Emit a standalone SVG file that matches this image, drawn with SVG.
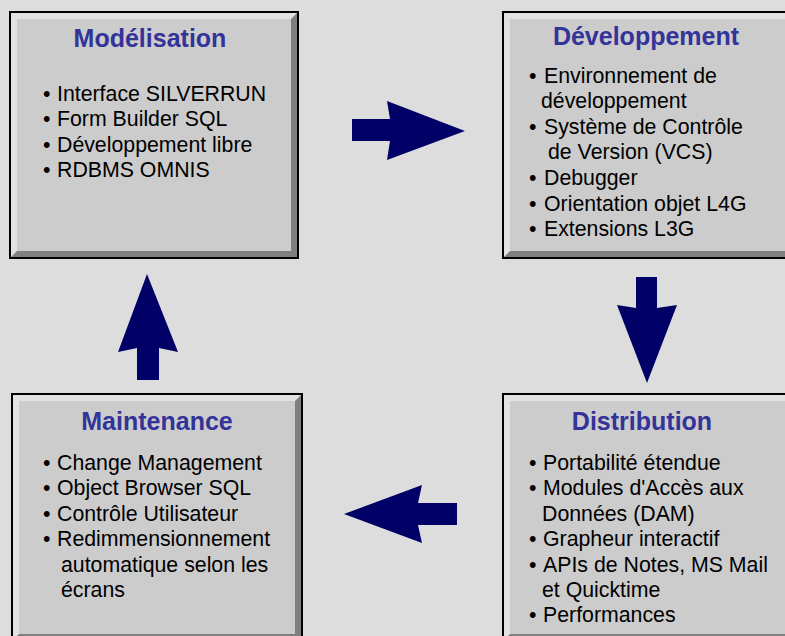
<svg xmlns="http://www.w3.org/2000/svg" width="785" height="636" viewBox="0 0 785 636">
<style>
.bg{fill:#dddddd}
.light{fill:#e2e2e2}
.dark{fill:#7f7f7f}
.face{fill:#cccccc}
.border{fill:none;stroke:#000;stroke-width:2}
.title{font-family:"Liberation Sans",Arial,sans-serif;font-size:25px;font-weight:bold;fill:#333399;text-anchor:middle}
.item{font-family:"Liberation Sans",Arial,sans-serif;font-size:21.3px;fill:#000}
.arrow{fill:#000066}
</style>
<rect class="bg" x="0" y="0" width="785" height="636"/>

<g id="modelisation">
<polygon class="light" points="11,13 297,13 291,19 17,19 17,251 11,257"/>
<polygon class="dark" points="297,13 297,257 11,257 17,251 291,251 291,19"/>
<rect class="face" x="17" y="19" width="274" height="232"/>
<rect class="border" x="10" y="12" width="288" height="246"/>
<text class="title" x="150" y="47">Modélisation</text>
<text class="item"><tspan x="43" y="101">•</tspan><tspan x="57" y="101">Interface SILVERRUN</tspan><tspan x="43" y="126">•</tspan><tspan x="57" y="126">Form Builder SQL</tspan><tspan x="43" y="152">•</tspan><tspan x="57" y="152">Développement libre</tspan><tspan x="43" y="177">•</tspan><tspan x="57" y="177">RDBMS OMNIS</tspan></text>
</g>

<g id="developpement">
<polygon class="light" points="504,13 798,13 792,19 510,19 510,251 504,257"/>
<polygon class="dark" points="798,13 798,257 504,257 510,251 792,251 792,19"/>
<rect class="face" x="510" y="19" width="282" height="232"/>
<rect class="border" x="503" y="12" width="296" height="246"/>
<text class="title" x="646" y="45">Développement</text>
<text class="item"><tspan x="529" y="83">•</tspan><tspan x="544" y="83">Environnement de</tspan><tspan x="541" y="108">développement</tspan><tspan x="529" y="134">•</tspan><tspan x="544" y="134">Système de Contrôle</tspan><tspan x="548" y="159">de Version (VCS)</tspan><tspan x="529" y="185">•</tspan><tspan x="544" y="185">Debugger</tspan><tspan x="529" y="211">•</tspan><tspan x="544" y="211">Orientation objet L4G</tspan><tspan x="529" y="236">•</tspan><tspan x="544" y="236">Extensions L3G</tspan></text>
</g>

<g id="maintenance">
<polygon class="light" points="13,395 301,395 295,401 19,401 19,634 13,640"/>
<polygon class="dark" points="301,395 301,640 13,640 19,634 295,634 295,401"/>
<rect class="face" x="19" y="401" width="276" height="233"/>
<rect class="border" x="12" y="394" width="290" height="247"/>
<text class="title" x="157" y="430">Maintenance</text>
<text class="item"><tspan x="43" y="470">•</tspan><tspan x="57" y="470">Change Management</tspan><tspan x="43" y="495">•</tspan><tspan x="57" y="495">Object Browser SQL</tspan><tspan x="43" y="521">•</tspan><tspan x="57" y="521">Contrôle Utilisateur</tspan><tspan x="43" y="546">•</tspan><tspan x="57" y="546">Redimmensionnement</tspan><tspan x="61" y="572">automatique selon les</tspan><tspan x="61" y="597">écrans</tspan></text>
</g>

<g id="distribution">
<polygon class="light" points="504,395 798,395 792,401 510,401 510,634 504,640"/>
<polygon class="dark" points="798,395 798,640 504,640 510,634 792,634 792,401"/>
<rect class="face" x="510" y="401" width="282" height="233"/>
<rect class="border" x="503" y="394" width="296" height="247"/>
<text class="title" x="642" y="430">Distribution</text>
<text class="item"><tspan x="529" y="470">•</tspan><tspan x="543" y="470">Portabilité étendue</tspan><tspan x="529" y="495">•</tspan><tspan x="543" y="495">Modules d'Accès aux</tspan><tspan x="542" y="521">Données (DAM)</tspan><tspan x="529" y="546">•</tspan><tspan x="543" y="546">Grapheur interactif</tspan><tspan x="529" y="572">•</tspan><tspan x="543" y="572">APIs de Notes, MS Mail</tspan><tspan x="542" y="597">et Quicktime</tspan><tspan x="529" y="622">•</tspan><tspan x="543" y="622">Performances</tspan></text>
</g>

<g id="connectors">
<polygon class="arrow" points="352,119 390,119 387,101 465,131 387,160 390,141 352,141"/>
<polygon class="arrow" points="636,277 657,277 657,308 677,305 647,383 617,305 636,308"/>
<polygon class="arrow" points="457,503 457,525 418,525 422,543 344,514 422,485 418,503"/>
<polygon class="arrow" points="137,380 159,380 159,348 178,352 147,274 118,352 137,348"/>
</g>
</svg>
